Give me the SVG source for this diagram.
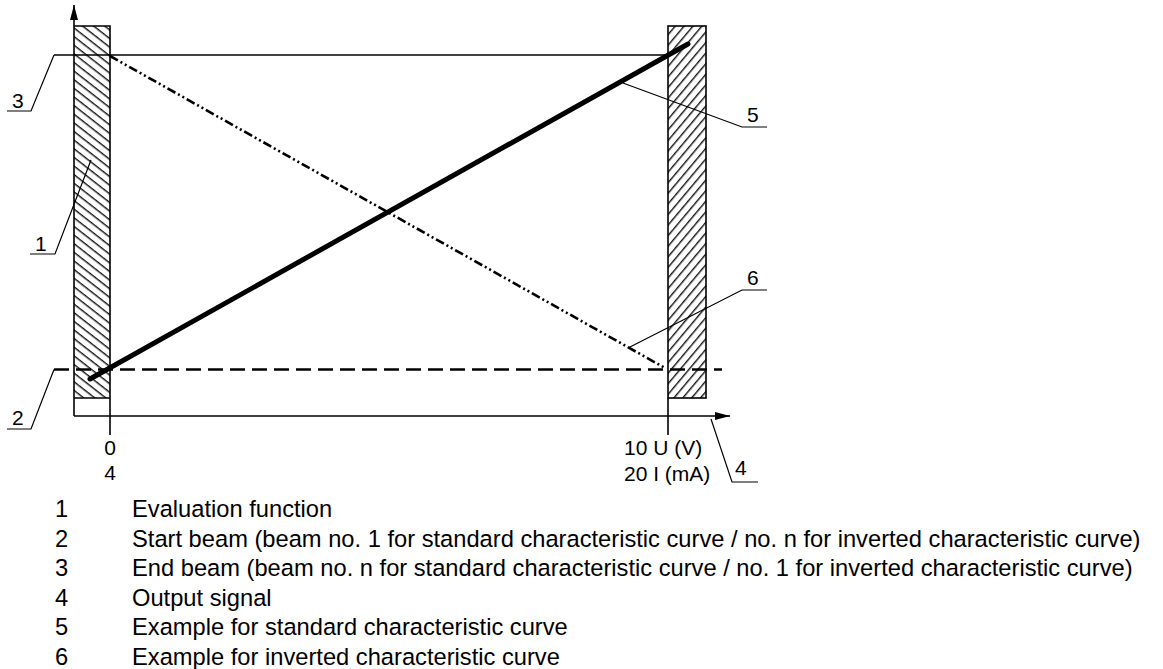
<svg xmlns="http://www.w3.org/2000/svg" width="1163" height="669" viewBox="0 0 1163 669">
<style>
.ln{stroke:#000;fill:none;stroke-width:1.6}
.thin{stroke:#000;fill:none;stroke-width:1.2}
.lbl{font-family:"Liberation Sans",Arial,sans-serif;font-size:21px;fill:#000}
.leg{font-family:"Liberation Sans",Arial,sans-serif;font-size:23.7px;fill:#000}
</style>
<defs>
<pattern id="hatchL" patternUnits="userSpaceOnUse" width="10" height="6.8" patternTransform="rotate(38)">
<rect x="0" y="3" width="10" height="1.3" fill="#000"/>
</pattern>
<pattern id="hatchR" patternUnits="userSpaceOnUse" width="10" height="6.8" patternTransform="rotate(-50)">
<rect x="0" y="3" width="10" height="1.3" fill="#000"/>
</pattern>
<marker id="arr" viewBox="0 0 15 8" refX="15" refY="4" markerWidth="15" markerHeight="8" markerUnits="userSpaceOnUse" orient="auto">
<path d="M0,0 L15,4 L0,8 Z" fill="#000"/>
</marker>
</defs>

<g id="evaluation-left">
<rect x="74" y="26" width="36" height="372" fill="url(#hatchL)"/>
<path class="ln" d="M74,26 H110 V435 M74,398 H110"/>
</g>

<g id="evaluation-right">
<rect x="668" y="26" width="38" height="372" fill="url(#hatchR)"/>
<rect class="ln" x="668" y="26" width="38" height="372"/>
<path class="ln" d="M668,398 V435"/>
</g>

<g id="axes">
<line class="ln" x1="74" y1="416" x2="74" y2="5" marker-end="url(#arr)"/>
<line class="ln" x1="74" y1="416" x2="730" y2="416" marker-end="url(#arr)"/>
</g>

<g id="connectors">
<line id="end-beam" class="ln" x1="54" y1="55" x2="668" y2="55"/>
<line id="start-beam" x1="54" y1="369.5" x2="722" y2="369.5" stroke="#000" stroke-width="2.6" stroke-dasharray="15 7"/>
<line id="standard-curve" x1="90" y1="379" x2="688" y2="44" stroke="#000" stroke-width="5" stroke-linecap="round"/>
<line id="inverted-curve" x1="110" y1="56" x2="665" y2="368" stroke="#000" stroke-width="2.6" stroke-dasharray="9 3 2 3 2 3"/>
</g>

<g id="leaders">
<polyline class="thin" points="54,55 31,111 7,111"/>
<polyline class="thin" points="54,369.5 31,429 7,429"/>
<polyline class="thin" points="91,160 55,254 30,254"/>
<polyline class="thin" points="623,83 742,127 767,127"/>
<polyline class="thin" points="628,348 742,290 767,290"/>
<polyline class="thin" points="711,419 732,482 758,482"/>
</g>

<g id="labels">
<text class="lbl" x="12" y="108">3</text>
<text class="lbl" x="12" y="425">2</text>
<text class="lbl" x="35" y="251">1</text>
<text class="lbl" x="747" y="122">5</text>
<text class="lbl" x="747" y="285">6</text>
<text class="lbl" x="735" y="475">4</text>
<text class="lbl" x="110" y="455" text-anchor="middle">0</text>
<text class="lbl" x="110" y="480" text-anchor="middle">4</text>
<text class="lbl" x="624" y="455">10 U (V)</text>
<text class="lbl" x="624" y="481">20 I (mA)</text>
</g>

<g id="legend">
<text class="leg" x="55" y="517">1</text><text class="leg" x="132" y="517">Evaluation function</text>
<text class="leg" x="55" y="546.6">2</text><text class="leg" x="132" y="546.6">Start beam (beam no. 1 for standard characteristic curve / no. n for inverted characteristic curve)</text>
<text class="leg" x="55" y="576.2">3</text><text class="leg" x="132" y="576.2">End beam (beam no. n for standard characteristic curve / no. 1 for inverted characteristic curve)</text>
<text class="leg" x="55" y="605.8">4</text><text class="leg" x="132" y="605.8">Output signal</text>
<text class="leg" x="55" y="635.4">5</text><text class="leg" x="132" y="635.4">Example for standard characteristic curve</text>
<text class="leg" x="55" y="665">6</text><text class="leg" x="132" y="665">Example for inverted characteristic curve</text>
</g>
</svg>
